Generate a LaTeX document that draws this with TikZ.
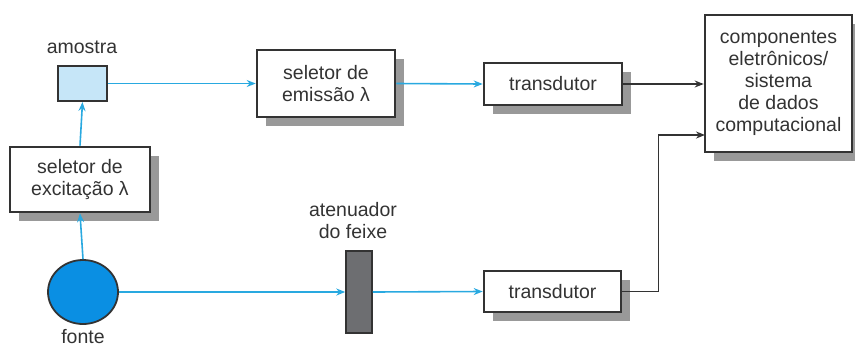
\documentclass[tikz,border=0pt]{standalone}
\usepackage{fontspec}
\setmainfont{Liberation Sans}
\usepackage{xcolor}
\usetikzlibrary{shapes.geometric,arrows.meta,positioning,calc,shadows}

\definecolor{beam}{HTML}{29A9E0}
\definecolor{ink}{HTML}{333333}
\definecolor{samplefill}{HTML}{C6E6F8}
\definecolor{lampfill}{HTML}{0A8FE3}
\definecolor{filterfill}{HTML}{6D6E71}

\begin{document}
\begin{tikzpicture}[
    x=1pt, y=-1pt,
    font=\fontsize{19.5}{22}\selectfont,
    text=ink,
    block/.style={rectangle, draw=ink, line width=2.6pt, fill=white, align=center,
        inner sep=0pt, drop shadow={shadow xshift=9pt, shadow yshift=-9pt, fill=black, opacity=0.4}},
    beamarrow/.style={-{Stealth[length=9pt, width=7pt]}, draw=beam, line width=1.6pt},
    wire/.style={-{Stealth[length=9pt, width=7pt]}, draw=ink, line width=1.6pt}
]
    \useasboundingbox (0,0) rectangle (855,349);

    % Source and excitation side
    \node[ellipse, draw=ink, line width=1.8pt, fill=lampfill, minimum width=70pt, minimum height=64pt, inner sep=0pt] (fonte) at (83,292) {};
    \node (fontelbl) at (83,337) {fonte};
    \node[block, minimum width=140pt, minimum height=65pt] (excit) at (80,179.5) {seletor de\\excitação λ};
    \node[rectangle, draw=ink, line width=2pt, fill=samplefill, minimum width=49pt, minimum height=35pt, inner sep=0pt] (amostra) at (82.5,83.5) {};
    \node (amostralbl) at (82,47) {amostra};

    % Emission path
    \node[block, minimum width=138pt, minimum height=67pt] (emis) at (326,83.5) {seletor de\\emissão λ};
    \node[block, minimum width=138pt, minimum height=42pt] (trans1) at (553,84) {transdutor};
    \node[block, minimum width=147pt, minimum height=137pt] (comp) at (778.5,83.5) {componentes\\eletrônicos/\\sistema\\de dados\\computacional};

    % Reference path
    \node[rectangle, draw=ink, line width=1.5pt, fill=filterfill, minimum width=26pt, minimum height=82pt, inner sep=0pt] (atten) at (359,292) {};
    \node[align=center] (attenlbl) at (353,221) {atenuador\\do feixe};
    \node[block, minimum width=137pt, minimum height=41pt] (trans2) at (552.5,291.5) {transdutor};
    \coordinate (compin) at (705,135);

    % Light paths
    \draw[beamarrow] (fonte.north) -- (excit.south);
    \draw[beamarrow] (excit.north) -- (amostra.south);
    \draw[beamarrow] (amostra.east) -- (emis.west);
    \draw[beamarrow] (emis.east) -- (trans1.west);
    \draw[beamarrow] (fonte.east) -- (atten.west);
    \draw[beamarrow] (atten.east) -- (trans2.west);

    % Signals
    \draw[wire] (trans1.east) -- (comp.west |- trans1.east);
    \draw[wire] (trans2.east) -- ++(36,0) |- (compin);

\end{tikzpicture}
\end{document}
